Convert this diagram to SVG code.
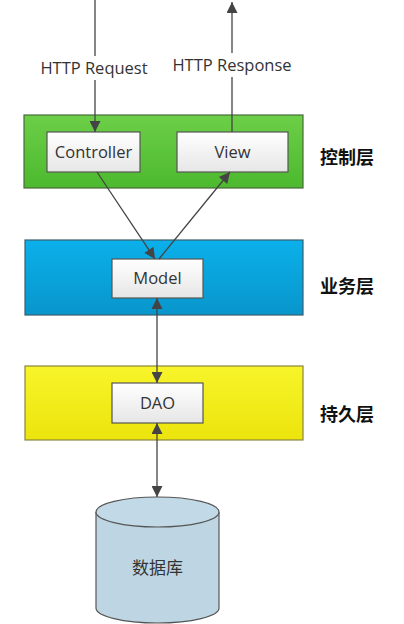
<svg xmlns="http://www.w3.org/2000/svg" width="404" height="624" viewBox="0 0 404 624">
<defs>
<style>
.lbl{font-family:"Open Sans","Liberation Sans",sans-serif;font-size:16.5px;fill:#333;text-anchor:middle}
.layer{font-family:"Noto Sans CJK SC",sans-serif;font-size:18px;font-weight:bold;fill:#111}
.node rect.inner{fill:url(#wg);stroke:#555;stroke-width:1.2}
.conn line{stroke:#444;stroke-width:1.3;fill:none}
</style>
<linearGradient id="wg" x1="0" y1="0" x2="0" y2="1"><stop offset="0" stop-color="#ffffff"/><stop offset="1" stop-color="#e6e6e6"/></linearGradient>
<linearGradient id="gg" x1="0" y1="0" x2="0" y2="1"><stop offset="0" stop-color="#6ccf48"/><stop offset="1" stop-color="#4cb92e"/></linearGradient>
<linearGradient id="bg" x1="0" y1="0" x2="0" y2="1"><stop offset="0" stop-color="#0bb0ea"/><stop offset="1" stop-color="#0896cc"/></linearGradient>
<linearGradient id="yg" x1="0" y1="0" x2="0" y2="1"><stop offset="0" stop-color="#f7f42a"/><stop offset="1" stop-color="#ece40c"/></linearGradient>
<marker id="ahb" viewBox="0 0 10 10" refX="10" refY="5" markerWidth="14" markerHeight="11" markerUnits="userSpaceOnUse" orient="auto-start-reverse"><path d="M0,0 L10,5 L0,10 z" fill="#444"/></marker>
</defs>
<rect width="404" height="624" fill="#fff"/>

<g id="layer-control">
<rect x="24" y="115" width="279" height="73" fill="url(#gg)" stroke="#4a6a3a" stroke-width="1.2"/>
<text class="layer" x="320" y="164">控制层</text>
</g>
<g id="layer-business">
<rect x="25" y="240" width="278" height="75" fill="url(#bg)" stroke="#3a6070" stroke-width="1.2"/>
<text class="layer" x="320" y="293">业务层</text>
</g>
<g id="layer-persistence">
<rect x="25" y="366" width="278" height="74" fill="url(#yg)" stroke="#8a8540" stroke-width="1.2"/>
<text class="layer" x="320" y="421">持久层</text>
</g>

<g id="controller" class="node"><rect class="inner" x="47" y="132" width="93" height="40"/><text class="lbl" x="93.5" y="158">Controller</text></g>
<g id="view" class="node"><rect class="inner" x="177" y="132" width="111" height="40"/><text class="lbl" x="232.5" y="158">View</text></g>
<g id="model" class="node"><rect class="inner" x="112" y="259" width="91" height="39"/><text class="lbl" x="157.5" y="284">Model</text></g>
<g id="dao" class="node"><rect class="inner" x="112" y="383" width="91" height="40"/><text class="lbl" x="157.5" y="409">DAO</text></g>

<g id="database">
<path d="M96,512 L96,608 A61.5,15 0 0 0 219,608 L219,512" fill="#bed6e4" stroke="#555" stroke-width="1.2"/>
<ellipse cx="157.5" cy="512" rx="61.5" ry="15" fill="#c2d9e7" stroke="#555" stroke-width="1.2"/>
<text class="lbl" x="157.5" y="574" style="font-family:'Noto Sans CJK SC',sans-serif;font-size:17px">数据库</text>
</g>

<g id="connectors" class="conn">
<line x1="95" y1="0" x2="95" y2="132" marker-end="url(#ahb)"/>
<line x1="232" y1="132" x2="232" y2="2" marker-end="url(#ahb)"/>
<line x1="97" y1="172" x2="155" y2="259" marker-end="url(#ahb)"/>
<line x1="159" y1="259" x2="230" y2="172" marker-end="url(#ahb)"/>
<line x1="157" y1="298" x2="157" y2="383" marker-start="url(#ahb)" marker-end="url(#ahb)"/>
<line x1="157" y1="423" x2="157" y2="497" marker-start="url(#ahb)" marker-end="url(#ahb)"/>
</g>
<g id="edge-labels">
<rect x="34" y="56" width="122" height="24" fill="#fff"/>
<rect x="168" y="53" width="130" height="24" fill="#fff"/>
<text class="lbl" x="94" y="74">HTTP Request</text>
<text class="lbl" x="232" y="71">HTTP Response</text>
</g>
</svg>
